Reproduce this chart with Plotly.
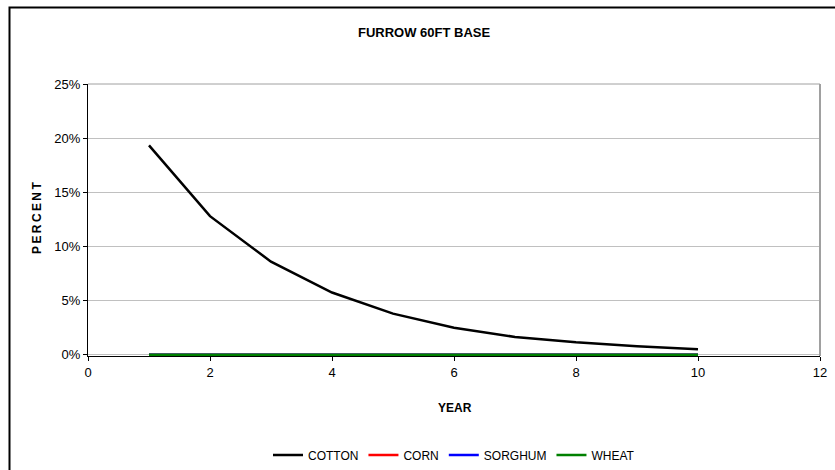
import plotly.graph_objects as go

years = [1, 2, 3, 4, 5, 6, 7, 8, 9, 10]
cotton = [0.1933, 0.128, 0.086, 0.0575, 0.038, 0.025, 0.0165, 0.0115, 0.0078, 0.0052]
corn = [0, 0, 0, 0, 0, 0, 0, 0, 0, 0]
sorghum = [0, 0, 0, 0, 0, 0, 0, 0, 0, 0]
wheat = [0, 0, 0, 0, 0, 0, 0, 0, 0, 0]

series = [
    ("COTTON", cotton, "#000000", 2.5),
    ("CORN", corn, "#FF0000", 2.5),
    ("SORGHUM", sorghum, "#0000FF", 2.5),
    ("WHEAT", wheat, "#008000", 2.5),
]

fig = go.Figure()
for name, vals, color, w in series:
    fig.add_trace(go.Scatter(x=years, y=vals, name=name, mode="lines",
                             line=dict(color=color, width=w), cliponaxis=False))

FONT = "Liberation Sans, Arial, sans-serif"
L, R, T, B = 88, 15, 84, 114
W, H = 835, 470
pw, ph = W - L - R, H - T - B

def px(x):
    return (x - L) / pw

def py(y):
    return (H - B - y) / ph

fig.update_layout(
    width=W, height=H,
    margin=dict(l=L, r=R, t=T, b=B, autoexpand=False),
    paper_bgcolor="white", plot_bgcolor="white",
    font=dict(family=FONT, size=12, color="#000000"),
    showlegend=True,
    legend=dict(orientation="h", x=0.5, xanchor="center", y=py(455), yanchor="middle",
                font=dict(family=FONT, size=12), itemwidth=30, tracegroupgap=0,
                bgcolor="rgba(0,0,0,0)"),
    xaxis=dict(range=[0, 12], tickvals=[0, 2, 4, 6, 8, 10, 12], showgrid=False,
               zeroline=False, showline=True, linecolor="#000000", linewidth=1,
               ticks="outside", ticklen=4, tickcolor="#000000", automargin=False,
               layer="below traces",
               tickfont=dict(family=FONT, size=13)),
    yaxis=dict(range=[-0.0011, 0.25], tickvals=[0, 0.05, 0.10, 0.15, 0.20, 0.25],
               ticktext=["0%", "5%", "10%", "15%", "20%", "25%"],
               showgrid=True, gridcolor="#C0C0C0", gridwidth=1,
               zeroline=False, showline=True, linecolor="#000000", linewidth=1,
               ticks="outside", ticklen=4, tickcolor="#000000", automargin=False,
               layer="below traces",
               tickfont=dict(family=FONT, size=13)),
    shapes=[
        dict(type="line", xref="paper", yref="paper", x0=0, x1=1, y0=1, y1=1,
             line=dict(color="#A0A0A0", width=1)),
        dict(type="line", xref="paper", yref="paper", x0=1, x1=1, y0=0, y1=1,
             line=dict(color="#A0A0A0", width=2)),
        dict(type="rect", xref="paper", yref="paper", x0=px(9.5), x1=px(845),
             y0=py(485), y1=py(7.5), line=dict(color="#000000", width=2),
             layer="below"),
    ],
    annotations=[
        dict(text="<b>FURROW 60FT BASE</b>", xref="paper", yref="paper",
             x=px(424), y=py(32), xanchor="center", yanchor="middle", showarrow=False,
             font=dict(family="Liberation Sans Narrow, Arial Narrow, sans-serif", size=13)),
        dict(text="<b>P\u2009E\u2009R\u2009C\u2009E\u2009N\u2009T</b>", xref="paper", yref="paper",
             x=px(37), y=py(218), xanchor="center", yanchor="middle", showarrow=False,
             textangle=-90, font=dict(family=FONT, size=12)),
        dict(text="<b>YEAR</b>", xref="paper", yref="paper",
             x=px(455), y=py(408), xanchor="center", yanchor="middle", showarrow=False,
             font=dict(family=FONT, size=12)),
    ],
)

fig.write_html("out.html")
